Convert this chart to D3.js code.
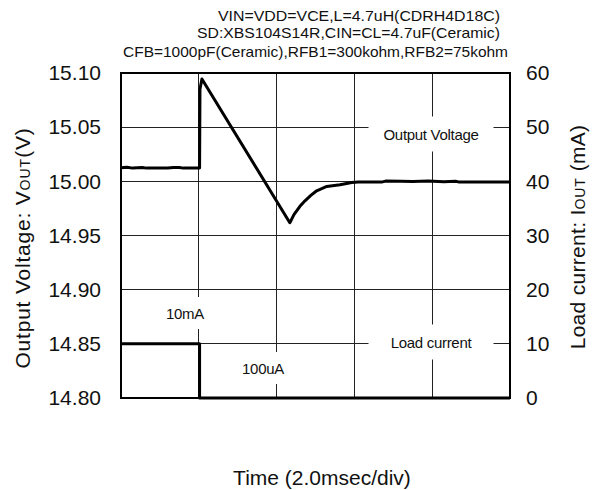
<!DOCTYPE html>
<html lang="en">
<head>
<meta charset="UTF-8">
<title>Load transient response</title>
<style>
  body {
    margin: 0;
    background: #fff;
  }
  svg text {
    font-family: "Liberation Sans", Arial, sans-serif;
    fill: #111;
  }
  .grid line {
    stroke: #222;
    stroke-width: 1;
    shape-rendering: crispEdges;
  }
  .frame {
    fill: none;
    stroke: #000;
    stroke-width: 2;
  }
  .trace {
    fill: none;
    stroke: #000;
    stroke-width: 3;
    stroke-linejoin: round;
  }
</style>
</head>
<body>
<div id="chart"></div>
<script src="https://cdnjs.cloudflare.com/ajax/libs/d3/7.8.5/d3.min.js"></script>
<script>
// readings taken off the scope picture
var timeMs = [0, 0.15, 0.3, 0.55, 0.65, 0.8, 1.2, 1.35, 1.5, 1.6, 2.02, 2.03, 2.08, 4.34, 4.45, 4.6, 4.73, 4.88, 5.03, 5.29, 5.63, 5.93, 6.1, 6.7, 6.8, 7.2, 7.5, 7.9, 8.3, 8.6, 8.7, 10];
var vout = [15.0125, 15.013, 15.0122, 15.0128, 15.0122, 15.0122, 15.0122, 15.0127, 15.0128, 15.0122, 15.0122, 15.085, 15.0945, 14.9618, 14.9695, 14.9769, 14.982, 14.987, 14.9913, 14.9953, 14.9968, 14.999, 14.9993, 14.9993, 15.0002, 15.0, 14.9998, 15.0002, 14.9997, 15.0001, 14.9993, 14.9993];

var loadTime = [0, 2.02, 2.02, 10];
var loadCurrent = [10, 10, 0, 0];

var voltTicks = [14.80, 14.85, 14.90, 14.95, 15.00, 15.05, 15.10];
var currentTicks = [0, 10, 20, 30, 40, 50, 60];
var timeGrid = [2, 4, 6, 8];

var titleLines = [
  "VIN=VDD=VCE,L=4.7uH(CDRH4D18C)",
  "SD:XBS104S14R,CIN=CL=4.7uF(Ceramic)",
  "CFB=1000pF(Ceramic),RFB1=300kohm,RFB2=75kohm"
];

var width = 595,
height = 490;
var plot = { left: 121, right: 510, top: 73, bottom: 398 };

var svg = d3.select("#chart").
append("svg").
attr("width", width).
attr("height", height);

var x = d3.scaleLinear().domain([0, 10]).range([plot.left, plot.right]);
var yV = d3.scaleLinear().domain([14.80, 15.10]).range([plot.bottom, plot.top]);
var yI = d3.scaleLinear().domain([0, 60]).range([plot.bottom, plot.top]);

// grid
var grid = svg.append("g").attr("class", "grid");
grid.selectAll("line.h").
data(voltTicks.slice(1, -1)).
enter().append("line").
attr("class", "h").
attr("x1", plot.left).
attr("x2", plot.right).
attr("y1", function (d) {return yV(d);}).
attr("y2", function (d) {return yV(d);});

grid.selectAll("line.v").
data(timeGrid).
enter().append("line").
attr("class", "v").
attr("x1", function (d) {return x(d);}).
attr("x2", function (d) {return x(d);}).
attr("y1", plot.top).
attr("y2", plot.bottom);

// in-plot labels sit on white boxes that hide the grid behind them
var notes = [
  { text: "Output Voltage", cx: 431, cy: 134, w: 125, h: 35 },
  { text: "Load current", cx: 431, cy: 342, w: 125, h: 35 },
  { text: "10mA", cx: 185, cy: 313, w: 50, h: 32 },
  { text: "100uA", cx: 263, cy: 368, w: 52, h: 32 }
];
var noteG = svg.append("g");
noteG.selectAll("rect").
data(notes).
enter().append("rect").
attr("x", function (d) {return d.cx - d.w / 2;}).
attr("y", function (d) {return d.cy - d.h / 2;}).
attr("width", function (d) {return d.w;}).
attr("height", function (d) {return d.h;}).
attr("fill", "#fff");
noteG.selectAll("text").
data(notes).
enter().append("text").
attr("x", function (d) {return d.cx;}).
attr("y", function (d) {return d.cy;}).
attr("text-anchor", "middle").
attr("dominant-baseline", "central").
attr("font-size", "15px").
attr("letter-spacing", "-0.3px").
text(function (d) {return d.text;});

// traces
var vLine = d3.line().
x(function (d) {return x(d[0]);}).
y(function (d) {return yV(d[1]);});
var iLine = d3.line().
x(function (d) {return x(d[0]);}).
y(function (d) {return yI(d[1]);});

svg.append("path").
datum(d3.zip(timeMs, vout)).
attr("class", "trace").
attr("d", vLine);

svg.append("path").
datum(d3.zip(loadTime, loadCurrent)).
attr("class", "trace").
attr("d", iLine);

svg.append("rect").
attr("class", "frame").
attr("x", plot.left).
attr("y", plot.top).
attr("width", plot.right - plot.left).
attr("height", plot.bottom - plot.top);

// axes (labels only)
var leftAxis = svg.append("g").
attr("transform", "translate(" + plot.left + ",0)").
call(d3.axisLeft(yV).
tickValues(voltTicks).
tickFormat(d3.format(".2f")).
tickSize(0).
tickPadding(20));

var rightAxis = svg.append("g").
attr("transform", "translate(" + plot.right + ",0)").
call(d3.axisRight(yI).
tickValues(currentTicks).
tickSize(0).
tickPadding(16));

[leftAxis, rightAxis].forEach(function (a) {
  a.select(".domain").remove();
  a.selectAll("text").
  attr("font-size", "21px").
  attr("font-family", "Liberation Sans, Arial, sans-serif").
  attr("fill", "#111");
});

// title block
var titleEnds = [500, 500, 508];
var titleWidths = [282, 303, 385];
var titleBase = [21, 38, 57];
svg.selectAll("text.title").
data(titleLines).
enter().append("text").
attr("class", "title").
attr("x", function (d, i) {return titleEnds[i];}).
attr("y", function (d, i) {return titleBase[i];}).
attr("text-anchor", "end").
attr("font-size", "14.5px").
attr("textLength", function (d, i) {return titleWidths[i];}).
attr("lengthAdjust", "spacingAndGlyphs").
text(function (d) {return d;});

// axis titles
var yLabel = svg.append("text").
attr("transform", "translate(30,248) rotate(-90)").
attr("text-anchor", "middle").
attr("font-size", "21px").
attr("letter-spacing", "0.8px");
yLabel.append("tspan").text("Output Voltage: V");
yLabel.append("tspan").attr("font-size", "14px").attr("letter-spacing", "1px").text("OUT");
yLabel.append("tspan").text("(V)");

var iLabel = svg.append("text").
attr("transform", "translate(585,237) rotate(-90)").
attr("text-anchor", "middle").
attr("font-size", "21px").
attr("letter-spacing", "0.3px");
iLabel.append("tspan").text("Load current: I");
iLabel.append("tspan").attr("font-size", "14px").attr("letter-spacing", "0.8px").text("OUT");
iLabel.append("tspan").text(" (mA)");

svg.append("text").
attr("x", 322).
attr("y", 485).
attr("text-anchor", "middle").
attr("font-size", "21px").
text("Time (2.0msec/div)");
</script>
</body>
</html>
